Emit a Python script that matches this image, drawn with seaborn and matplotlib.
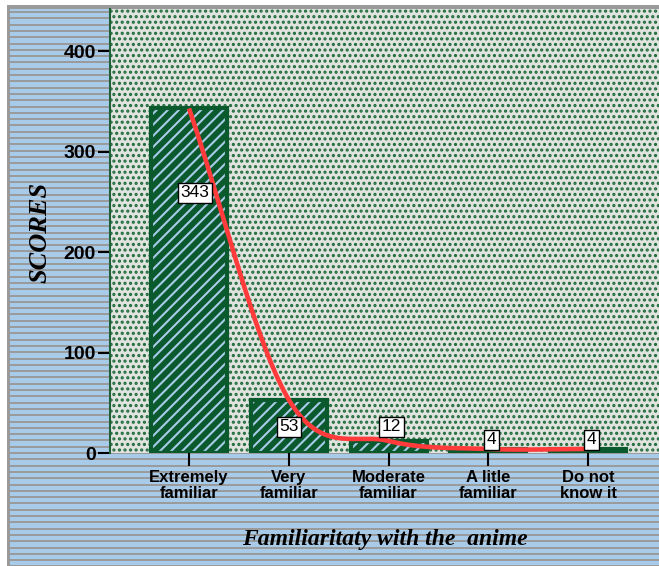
import numpy as np
import matplotlib
matplotlib.use("Agg")
import matplotlib.pyplot as plt
from matplotlib.patches import Rectangle
import seaborn as sns

# chart data
categories = ["Extremely\nfamiliar", "Very\nfamiliar", "Moderate\nfamiliar",
              "A litle\nfamiliar", "Do not\nknow it"]
scores = [343, 53, 12, 4, 4]
y_ticks = [0, 100, 200, 300, 400]

# colours
dark_green = "#0b5a2e"
light_blue = "#a9cbea"
red = "#ff3b3b"

sns.set_style("white")
plt.rcParams["font.family"] = ["Liberation Sans", "DejaVu Sans"]
plt.rcParams["hatch.linewidth"] = 1.5
plt.rcParams["text.color"] = "black"
plt.rcParams["xtick.color"] = "black"
plt.rcParams["ytick.color"] = "black"

fig = plt.figure(figsize=(6.59, 5.66), dpi=100)
fig.patch.set_facecolor(light_blue)
W, H = 659, 566

# grey frame + striped blue background, drawn in a full-figure axes (pixel units)
bg = fig.add_axes([0, 0, 1, 1], zorder=-5)
bg.set_xlim(0, W)
bg.set_ylim(H, 0)
bg.axis("off")
bg.add_patch(Rectangle((-5, -5), W + 20, 10, facecolor="white", lw=0))
bg.add_patch(Rectangle((-5, -5), 12, H + 20, facecolor="white", lw=0))
bg.add_patch(Rectangle((7, 5), W + 20, H + 20, facecolor="#9a9a9a", lw=0))
bg.add_patch(Rectangle((10, 9), W + 20, H + 20, facecolor=light_blue, lw=0))
bg.hlines(np.arange(12, H + 6, 6.3), 10, W + 10, color="#9a9a9a", lw=1.4)

ax = fig.add_axes([110 / W, 113 / H, 1 - 110 / W, (453 - 9) / H])
ax.patch.set_facecolor("#e0e3de")
ax.patch.set_edgecolor("#1f6b3c")
ax.patch.set_hatch("...")

sns.barplot(x=categories, y=scores, ax=ax, width=0.76, color=dark_green,
            saturation=1, zorder=2)

# hatched bars with a thick dark green outline
for i, bar in enumerate(ax.patches):
    bar.set_facecolor(dark_green)
    bar.set_edgecolor(light_blue)
    bar.set_linewidth(0)
    if scores[i] > 10:
        bar.set_hatch("///")
    ax.add_patch(Rectangle(bar.get_xy(), bar.get_width(), bar.get_height(),
                           fill=False, edgecolor=dark_green, lw=3, zorder=3))

# smooth line through the bar tops (cubic Hermite with central tangents)
xs = np.arange(len(scores), dtype=float)
ys = np.array(scores, dtype=float)
m = np.gradient(ys)
cx, cy = [], []
for k in range(len(xs) - 1):
    t = np.linspace(0, 1, 40)
    h00 = 2 * t**3 - 3 * t**2 + 1
    h10 = t**3 - 2 * t**2 + t
    h01 = -2 * t**3 + 3 * t**2
    h11 = t**3 - t**2
    cx.extend(xs[k] + t)
    cy.extend(h00 * ys[k] + h10 * m[k] + h01 * ys[k + 1] + h11 * m[k + 1])
ax.plot(cx, cy, color=red, lw=3.3, zorder=4, solid_capstyle="butt")

# value labels
label_y = [259, 26, 26, 13, 13]
label_dx = [0.06, 0.0, 0.03, 0.03, 0.03]
for i, v in enumerate(scores):
    ax.text(i + label_dx[i], label_y[i], str(v), ha="center", va="center",
            fontsize=12.5, zorder=5,
            bbox=dict(boxstyle="square,pad=0.15", facecolor="white",
                      edgecolor="black", lw=1))

ax.set_xlim(-0.792, 4.71)
ax.set_ylim(0, 442)
ax.set_yticks(y_ticks)
ax.set_yticklabels([str(t) for t in y_ticks], fontsize=14, fontweight="bold")
ax.set_xticks(range(len(categories)))
ax.set_xticklabels(categories, fontsize=12, fontweight="bold", linespacing=1.15)
ax.tick_params(axis="y", length=9, width=1.5, color="black", pad=1, left=True)
ax.tick_params(axis="x", length=9, width=1.5, color="black", pad=3, bottom=True)

for s in ["top", "right", "bottom"]:
    ax.spines[s].set_visible(False)
ax.spines["left"].set_color("#1f5f3a")
ax.spines["left"].set_linewidth(1.5)

ax.set_xlabel("")
ax.set_ylabel("")
fig.text(385 / W, 1 - 540 / H, "Familiaritaty with the  anime", ha="center",
         va="center", fontsize=17, fontweight="bold", fontstyle="italic",
         family=["Liberation Serif", "DejaVu Serif"])
fig.text(40 / W, 1 - 232 / H, "SCORES", ha="center", va="center", rotation=90,
         fontsize=19, fontweight="bold", fontstyle="italic",
         family=["Liberation Serif", "DejaVu Serif"])

fig.savefig("out.png", dpi=100)
